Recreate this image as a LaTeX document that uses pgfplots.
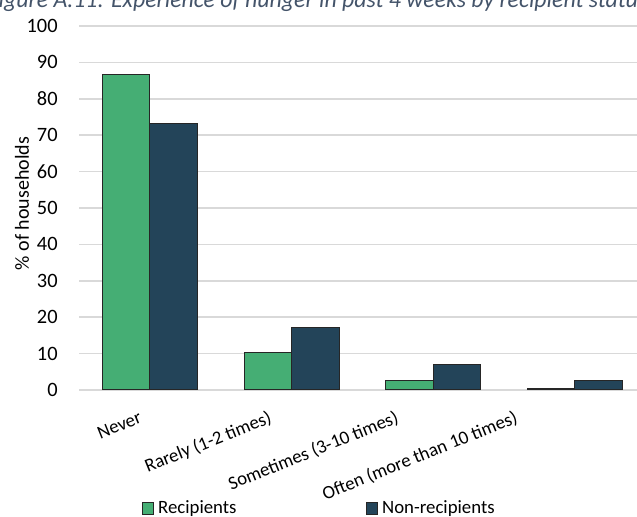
\documentclass[border=0pt]{standalone}
\usepackage{pgfplots}
\pgfplotsset{compat=1.18}
\usepackage{fontspec}
\setmainfont{Carlito}
\definecolor{recgreen}{RGB}{69,174,116}
\definecolor{nonnavy}{RGB}{35,68,89}
\definecolor{gridgray}{RGB}{217,217,217}
\definecolor{titlecol}{RGB}{68,84,106}
\newcommand{\fs}{\fontsize{9.4}{11.3}\selectfont}
\newcommand{\fy}{\fontsize{10.2}{12.2}\selectfont}
\begin{document}
\begin{tikzpicture}
\begin{axis}[
  at={(39.5pt,63.5pt)}, anchor=south west,
  scale only axis, width=279pt, height=182pt,
  ybar=0pt, bar width=0.335,
  xmin=-0.5, xmax=3.438, ymin=0, ymax=100,
  ytick={0,10,...,100},
  xtick={0,1,2,3}, xticklabels={},
  major tick length=0pt,
  axis line style={draw=none},
  ymajorgrids, grid style={gridgray, line width=0.75pt},
  /pgf/number format/assume math mode=true,
  tick label style={font=\fy},
  yticklabel style={inner sep=0pt, xshift=-10.5pt},
  ylabel={\% of households},
  ylabel style={font=\fontsize{10.5}{12.6}\selectfont},
  every axis y label/.style={at={(axis description cs:-0.102,0.512)}, rotate=90, anchor=center},
  clip=false,
  legend columns=2,
  legend style={draw=none, fill=none, font=\fs, at={(axis description cs:0.1114,-0.326)}, anchor=west, inner sep=0pt,
    /tikz/every even column/.append style={column sep=62.5pt}},
  legend image code/.code={\draw[#1, draw=black!85, line width=0.5pt] (0pt,-2.9pt) rectangle (5.8pt,2.9pt);},
]
\addplot[fill=recgreen, draw=black!85, line width=0.5pt] coordinates {(0,86.7) (1,10.4) (2,2.6) (3,0.3)};
\addplot[fill=nonnavy, draw=black!85, line width=0.5pt] coordinates {(0,73.3) (1,17.3) (2,6.9) (3,2.5)};
\legend{Recipients, Non-recipients}
\node[rotate=22, anchor=base east, font=\fs, inner sep=0pt] at (axis cs:-0.048,-8.8) {Never};
\node[rotate=22, anchor=base east, font=\fs, inner sep=0pt] at (axis cs:0.869,-8.8) {Rarely (1-2 times)};
\node[rotate=22, anchor=base east, font=\fs, inner sep=0pt] at (axis cs:1.765,-8.8) {Sometimes (3-10 times)};
\node[rotate=22, anchor=base east, font=\fs, inner sep=0pt] at (axis cs:2.605,-8.8) {Often (more than 10 times)};
\end{axis}
\node[anchor=base, font=\fontsize{11.9}{14}\selectfont\itshape, text=titlecol, inner sep=0pt] at (158.75pt,254.75pt) {Figure A.11: Experience of hunger in past 4 weeks by recipient status};
\pgfresetboundingbox
\path (0,0) rectangle (318.5pt,258.5pt);
\end{tikzpicture}
\end{document}
